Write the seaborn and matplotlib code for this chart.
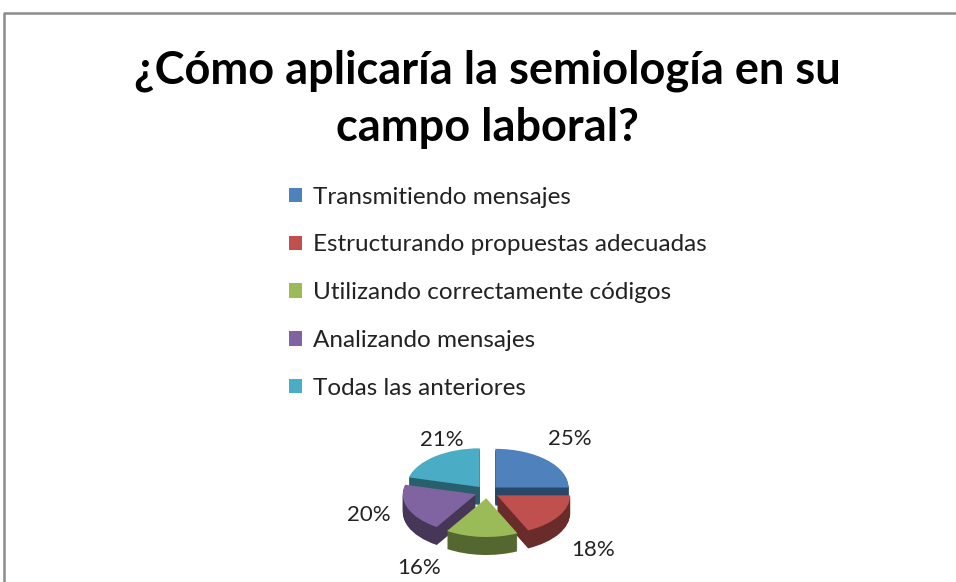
import numpy as np
import seaborn as sns
import matplotlib.pyplot as plt
from matplotlib.lines import Line2D
from matplotlib.colors import to_rgb
from matplotlib.transforms import Affine2D

sns.set_theme(style="white")
plt.rcParams['font.family'] = ['Lato', 'DejaVu Sans']

# data
categories = ["Transmitiendo mensajes", "Estructurando propuestas adecuadas",
              "Utilizando correctamente códigos", "Analizando mensajes",
              "Todas las anteriores"]
values = [25, 18, 16, 20, 21]
title = "¿Cómo aplicaría la semiología en su\ncampo laboral?"

colors = ["#4F81BD", "#C0504D", "#9BBB59", "#8064A2", "#4BACC6"]
side_colors = [tuple(c * 0.55 for c in to_rgb(col)) for col in colors]
explode = [0.14] * len(values)
# nudges for the percent labels (pixels), Excel places them a bit irregularly
label_nudge = [(-8, -5), (-3, 21), (-60, 8), (2, -2), (34, 2)]

fig = plt.figure(figsize=(9.56, 5.82), dpi=100)
fig.patch.set_facecolor("white")

# pie axes, ~85 px/unit horizontally, ~45 px/unit vertically
ax = fig.add_axes([317 / 956, 0, 340 / 956, 162 / 582])

depth = 0.4
for off in np.linspace(depth, 0.02, 20):
    ax.pie(values, colors=side_colors, startangle=90, counterclock=False,
           radius=0.86, explode=explode, center=(0, -off),
           wedgeprops=dict(linewidth=0))

wedges, texts, autotexts = ax.pie(
    values, colors=colors, startangle=90, counterclock=False,
    radius=0.86, explode=explode, autopct="%1.0f%%", pctdistance=1.6,
    wedgeprops=dict(linewidth=0),
    textprops=dict(fontsize=16, color="#222222"))

ax.set_aspect("auto")
ax.set_xlim(-2, 2)
ax.set_ylim(-2.0, 1.6)
ax.axis("off")

for t, (dx, dy) in zip(autotexts, label_nudge):
    t.set_transform(t.get_transform() + Affine2D().translate(dx, -dy))

fig.text(487 / 956, 1 - 99 / 582, title, ha="center", va="center",
         fontsize=32.5, fontweight="bold", color="black", linespacing=1.45)

fig.legend(wedges, categories, loc="upper left",
           bbox_to_anchor=(279 / 956, 1 - 177 / 582), frameon=False,
           fontsize=17.5, handlelength=0.55, handleheight=0.55, handletextpad=0.45,
           labelspacing=1.1, borderaxespad=0, labelcolor="#222222")

# outer chart border (top and left)
fig.add_artist(Line2D([4 / 956, 4 / 956, 1], [0, 1 - 13 / 582, 1 - 13 / 582],
                      transform=fig.transFigure, color="#8c8c8c", lw=1.8))

fig.savefig("out.png", dpi=100)
